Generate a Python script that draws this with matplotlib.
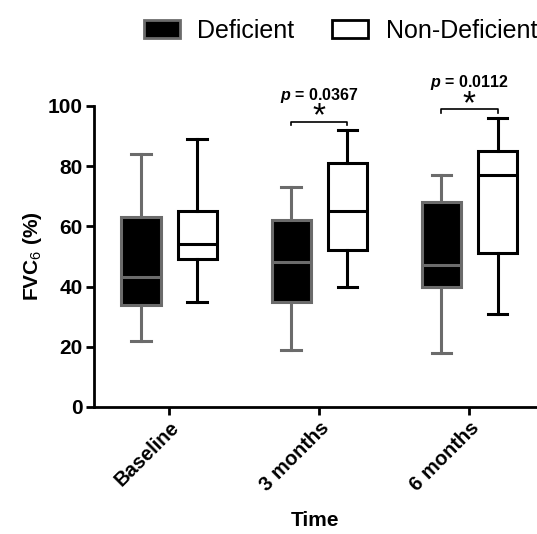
import numpy as np
import matplotlib.pyplot as plt
from matplotlib.patches import Patch

plt.rcParams['font.family'] = ['Liberation Sans', 'DejaVu Sans']
plt.rcParams['mathtext.fontset'] = 'custom'
plt.rcParams['mathtext.rm'] = 'Liberation Sans'
plt.rcParams['mathtext.bf'] = 'Liberation Sans:bold'
plt.rcParams['mathtext.it'] = 'Liberation Sans:italic'
plt.rcParams['mathtext.bfit'] = 'Liberation Sans:italic:bold'

times = ["Baseline", "3 months", "6 months"]
groups = ["Deficient", "Non-Deficient"]

# whisker low, q1, median, q3, whisker high
def_low = [22, 19, 18]
def_q1 = [34, 35, 40]
def_med = [43, 48, 47]
def_q3 = [63, 62, 68]
def_high = [84, 73, 77]

non_low = [35, 40, 31]
non_q1 = [49, 52, 51]
non_med = [54, 65, 77]
non_q3 = [65, 81, 85]
non_high = [89, 92, 96]

p_values = ["", "0.0367", "0.0112"]
bracket_y = [None, 94.8, 98.9]

fig = plt.figure(figsize=(5.37, 5.34), dpi=100)
ax = fig.add_axes([0.175, 0.238, 0.825, 0.5637])

x = np.arange(len(times))
off = 0.187
w = 0.26


def stats(lo, q1, med, q3, hi):
    return [dict(whislo=a, q1=b, med=c, q3=d, whishi=e, fliers=[])
            for a, b, c, d, e in zip(lo, q1, med, q3, hi)]


lw = 2.2
gray = "#6b6b6b"
ax.bxp(stats(def_low, def_q1, def_med, def_q3, def_high), positions=x - off,
       widths=w, patch_artist=True, showfliers=False,
       boxprops=dict(facecolor="black", edgecolor=gray, linewidth=lw),
       medianprops=dict(color=gray, linewidth=lw),
       whiskerprops=dict(color=gray, linewidth=lw),
       capprops=dict(color=gray, linewidth=lw), capwidths=0.13)
ax.bxp(stats(non_low, non_q1, non_med, non_q3, non_high), positions=x + off,
       widths=w, patch_artist=True, showfliers=False,
       boxprops=dict(facecolor="white", edgecolor="black", linewidth=lw),
       medianprops=dict(color="black", linewidth=lw),
       whiskerprops=dict(color="black", linewidth=lw),
       capprops=dict(color="black", linewidth=lw), capwidths=0.13)

ax.set_xlim(-0.5, 2.45)
ax.set_ylim(0, 100)
ax.set_yticks([0, 20, 40, 60, 80, 100])
ax.set_xticks(x)
ax.set_xticklabels(times, rotation=45, ha="right", rotation_mode="anchor",
                   fontsize=14.5, fontweight="bold")
for lab in ax.get_yticklabels():
    lab.set_fontsize(15)
    lab.set_fontweight("bold")
ax.spines['top'].set_visible(False)
ax.spines['right'].set_visible(False)
ax.spines['left'].set_linewidth(2)
ax.spines['bottom'].set_linewidth(2)
ax.tick_params(width=2, length=6, pad=2)
ax.set_ylabel("FVC$_6$ (%)", fontsize=15, fontweight="bold", labelpad=3)
ax.set_xlabel("Time", fontsize=15, fontweight="bold", labelpad=12)

# significance brackets
for i, p in enumerate(p_values):
    if not p:
        continue
    yb = bracket_y[i]
    ax.plot([i - off, i - off, i + off, i + off], [yb - 1.3, yb, yb, yb - 1.3],
            color="black", linewidth=1.2, clip_on=False)
    ax.annotate("*", xy=(i, yb), xytext=(0, -3), textcoords="offset points",
                ha="center", va="baseline", fontsize=24, annotation_clip=False)
    ax.annotate(r"$\mathbfit{p}$ = " + p, xy=(i, yb), xytext=(0, 19),
                textcoords="offset points", ha="center", va="center",
                fontsize=11.5, fontweight="bold", annotation_clip=False)

handles = [Patch(facecolor="black", edgecolor=gray, linewidth=2),
           Patch(facecolor="white", edgecolor="black", linewidth=2)]
fig.legend(handles, groups, loc="center right", bbox_to_anchor=(1.0, 0.942),
           ncol=2, frameon=False, fontsize=18, handlelength=1.45,
           handleheight=0.7, handletextpad=0.7, columnspacing=1.5,
           borderaxespad=0, borderpad=0)

fig.savefig("out.png", dpi=100)
